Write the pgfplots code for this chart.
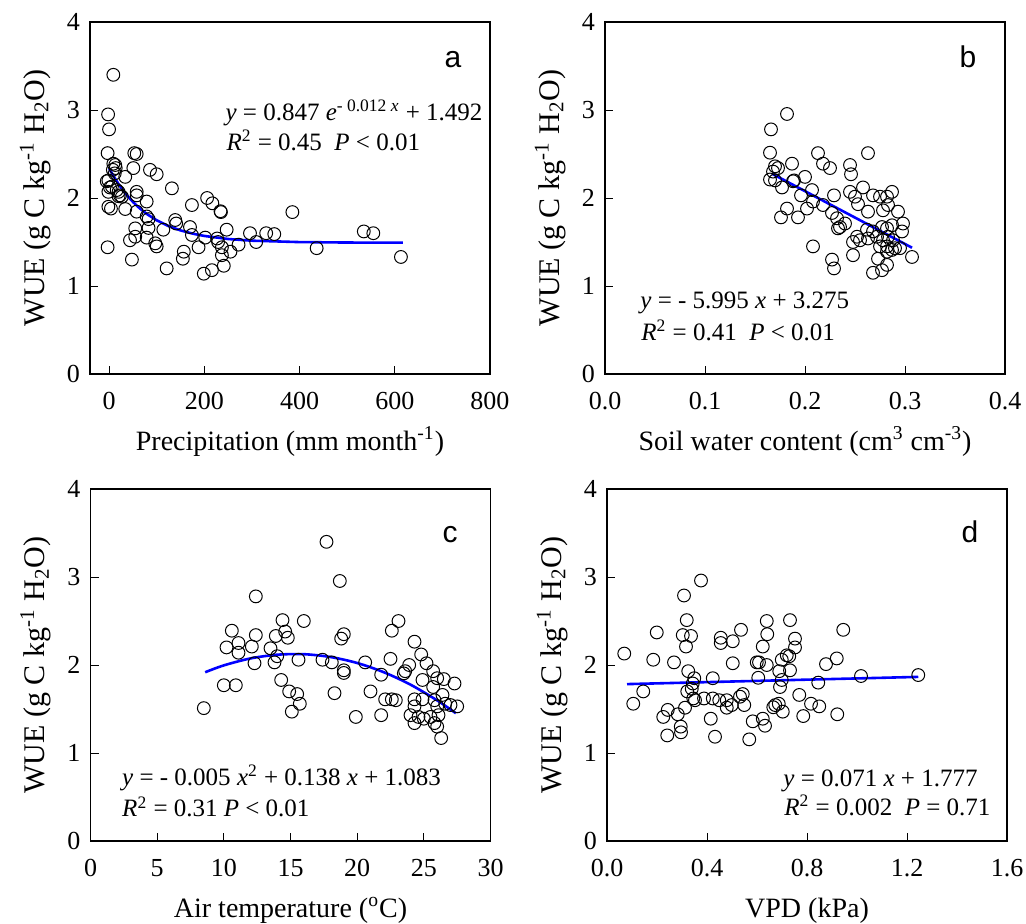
\documentclass[border=0pt]{standalone}
\usepackage{fontspec}
\setmainfont{Liberation Serif}
\newfontfamily\arialfont{Liberation Sans}
\usepackage{pgfplots}
\pgfplotsset{compat=1.18}

\pgfplotsset{
  wue/.style={
    scale only axis, width=200pt, height=176pt, anchor=south west,
    ymin=0, ymax=4, ytick={0,1,2,3,4},
    axis line style={line width=0.6pt},
    tick align=inside, xtick pos=left, ytick pos=left,
    major tick length=4pt, tick style={line width=0.5pt, black},
    /pgf/number format/assume math mode=true,
    tick label style={font=\fontsize{13}{15}\selectfont},
    xticklabel style={yshift=-5.5pt},
    yticklabel style={xshift=-1.5pt},
    label style={font=\fontsize{14}{16}\selectfont},
    xlabel style={at={(axis description cs:0.5,-0.216)}, anchor=base},
    ylabel style={at={(axis description cs:-0.137,0.5)}, anchor=center, font=\fontsize{15}{17}\selectfont},
    ylabel={WUE (g C kg\textsuperscript{-1} H\textsubscript{2}O)},
    clip=false,
  },
  pts/.style={only marks, mark=o, mark size=3.2pt, mark options={line width=0.5pt, black}},
  fit/.style={blue, line width=1.3pt, no marks},
}
\tikzset{
  eq/.style={anchor=base west, font=\fontsize{12.5}{14}\selectfont, inner sep=0pt},
  panel/.style={anchor=base, font=\arialfont\fontsize{15}{18}\selectfont, inner sep=0pt},
}

\begin{document}
\begin{tikzpicture}

% a: precipitation
\begin{axis}[wue, at={(45pt,274.5pt)},
  xmin=-40, xmax=800, xtick={0,200,400,600,800},
  xlabel={Precipitation (mm month\textsuperscript{-1})}]
\addplot[pts] coordinates {
(9,3.40) (-2,2.95) (0,2.78) (-3,2.51) (53,2.51) (58,2.50) (9,2.39) (13,2.375)
(14,2.34) (8,2.32) (-1.4,2.20) (-4.8,2.19) (34,2.24) (51,2.34) (86,2.32) (100,2.27)
(132,2.11) (-1.4,2.07) (16,2.09) (23,2.03) (20,2.02) (58,2.07) (58,2.03) (79,1.96)
(174,1.92) (206,2.00) (217,1.94) (234,1.85) (235,1.84) (-1.4,1.90) (4,1.88) (34,1.875)
(58,1.845) (79,1.79) (83,1.76) (139,1.75) (141,1.71) (55,1.655) (83,1.66) (114,1.64)
(170,1.67) (247,1.64) (296,1.60) (330,1.60) (347,1.59) (535,1.62) (555,1.60) (385,1.84)
(44,1.52) (55,1.56) (79,1.55) (97,1.485) (100,1.45) (174,1.58) (202,1.55) (227,1.54)
(229,1.50) (272,1.47) (309,1.50) (188,1.44) (157,1.39) (155,1.31) (237,1.44) (255,1.39)
(-3,1.44) (237,1.35) (48,1.30) (121,1.20) (199,1.14) (216,1.18) (241,1.23) (436,1.43)
(613,1.33) (6,2.13) (20,2.07) (27,2.015) (12,2.28) (2,2.12)
};
\addplot[fit] coordinates {
(0,2.339) (5,2.290) (10,2.243) (15,2.200) (20,2.158) (30,2.083) (40,2.016) (50,1.957)
(60,1.904) (70,1.858) (80,1.816) (100,1.747) (125,1.681) (150,1.632) (175,1.596)
(200,1.569) (250,1.534) (300,1.515) (400,1.499) (500,1.494) (617,1.4925)
};
\node[eq] at (axis cs:244,2.886) {\textit{y} = 0.847 \textit{e}\textsuperscript{- 0.012 \textit{x}} + 1.492};
\node[eq] at (axis cs:246,2.545) {\textit{R}\textsuperscript{2} = 0.45\ \ \textit{P} {\char`\<} 0.01};
\node[panel] at (rel axis cs:0.9075,0.872) {a};
\end{axis}

% b: soil water content
\begin{axis}[wue, at={(302.5pt,274.5pt)},
  xmin=0, xmax=0.4, xtick={0,0.1,0.2,0.3,0.4},
  xticklabel style={/pgf/number format/.cd, fixed, fixed zerofill, precision=1},
  xlabel={Soil water content (cm\textsuperscript{3} cm\textsuperscript{-3})}]
\addplot[pts] coordinates {
(0.182,2.955) (0.166,2.78) (0.165,2.515) (0.213,2.51) (0.263,2.51) (0.218,2.39)
(0.225,2.34) (0.187,2.39) (0.245,2.375) (0.246,2.27) (0.170,2.36) (0.173,2.34)
(0.168,2.30) (0.165,2.21) (0.200,2.24) (0.189,2.20) (0.177,2.12) (0.207,2.09)
(0.196,2.03) (0.229,2.03) (0.245,2.07) (0.250,2.015) (0.258,2.12) (0.268,2.03)
(0.275,2.015) (0.282,2.015) (0.287,2.07) (0.253,1.93) (0.218,1.92) (0.208,1.96)
(0.202,1.88) (0.182,1.88) (0.176,1.78) (0.193,1.78) (0.263,1.845) (0.278,1.86)
(0.283,1.92) (0.293,1.845) (0.227,1.83) (0.232,1.77) (0.240,1.71) (0.235,1.67)
(0.233,1.655) (0.298,1.71) (0.262,1.64) (0.268,1.62) (0.277,1.67) (0.282,1.655)
(0.287,1.69) (0.297,1.62) (0.252,1.56) (0.248,1.50) (0.255,1.52) (0.263,1.54)
(0.272,1.56) (0.278,1.52) (0.283,1.56) (0.288,1.52) (0.275,1.45) (0.282,1.45)
(0.290,1.43) (0.295,1.43) (0.307,1.33) (0.208,1.45) (0.248,1.35) (0.273,1.31)
(0.282,1.39) (0.287,1.41) (0.227,1.30) (0.229,1.20) (0.268,1.15) (0.277,1.18)
(0.282,1.24) (0.170,2.20) (0.188,2.19)
};
\addplot[fit] coordinates {(0.167,2.276) (0.307,1.435)};
\node[eq] at (axis cs:0.035,0.75) {\textit{y} = - 5.995 \textit{x} + 3.275};
\node[eq] at (axis cs:0.036,0.386) {\textit{R}\textsuperscript{2} = 0.41\ \ \textit{P} {\char`\<} 0.01};
\node[panel] at (rel axis cs:0.9075,0.872) {b};
\end{axis}

% c: air temperature
\begin{axis}[wue, at={(45.25pt,41pt)},
  xmin=0, xmax=30, xtick={0,5,10,15,20,25,30},
  xlabel={Air temperature (\textsuperscript{o}C)}]
\addplot[pts] coordinates {
(17.7,3.40) (18.7,2.955) (12.4,2.78) (14.4,2.51) (16.0,2.50) (23.1,2.50) (22.6,2.39)
(10.6,2.39) (12.4,2.34) (13.9,2.33) (14.6,2.38) (14.8,2.31) (19.0,2.35) (18.8,2.30)
(11.1,2.25) (10.2,2.20) (11.1,2.14) (12.1,2.21) (13.5,2.19) (24.3,2.265) (14.0,2.10)
(13.8,2.03) (12.3,2.02) (15.6,2.06) (17.4,2.06) (18.1,2.03) (20.6,2.03) (22.5,2.07)
(24.8,2.12) (25.2,2.02) (25.7,1.93) (23.9,2.00) (23.5,1.905) (23.6,1.93) (24.9,1.83)
(26.0,1.85) (26.5,1.84) (27.3,1.79) (19.0,1.94) (19.0,1.91) (14.3,1.83) (21.8,1.89)
(25.7,1.75) (26.4,1.66) (10.0,1.77) (10.9,1.77) (14.9,1.70) (15.5,1.67) (15.7,1.56)
(15.1,1.47) (18.3,1.68) (21.0,1.70) (22.1,1.61) (22.6,1.61) (22.9,1.60) (24.3,1.61)
(24.9,1.61) (25.8,1.60) (26.0,1.53) (26.6,1.56) (27.0,1.545) (27.5,1.53) (21.8,1.43)
(24.0,1.43) (24.6,1.41) (25.0,1.39) (25.5,1.41) (26.1,1.43) (24.3,1.34) (25.8,1.34)
(26.0,1.30) (26.3,1.17) (8.5,1.51) (19.9,1.41) (24.3,1.53)
};
\addplot[fit, smooth] coordinates {
(8.6,1.918) (10,1.996) (12,2.075) (14,2.117) (16,2.123) (18,2.091) (20,2.023)
(22,1.918) (24,1.777) (26,1.598) (27.4,1.452)
};
\node[eq] at (axis cs:2.35,0.636) {\textit{y} = - 0.005 \textit{x}\textsuperscript{2} + 0.138 \textit{x} + 1.083};
\node[eq] at (axis cs:2.35,0.276) {\textit{R}\textsuperscript{2} = 0.31 \textit{P} {\char`\<} 0.01};
\node[panel] at (rel axis cs:0.899,0.849) {c};
\end{axis}

% d: VPD
\begin{axis}[wue, at={(303.5pt,41pt)},
  xmin=0, xmax=1.6, xtick={0,0.4,0.8,1.2,1.6},
  xticklabel style={/pgf/number format/.cd, fixed, fixed zerofill, precision=1},
  xlabel={VPD (kPa)}]
\addplot[pts] coordinates {
(0.069,2.13) (0.105,1.56) (0.145,1.70) (0.199,2.37) (0.185,2.06) (0.268,2.03)
(0.225,1.41) (0.243,1.49) (0.241,1.20) (0.283,1.44) (0.295,1.30) (0.296,1.235)
(0.308,2.79) (0.376,2.96) (0.319,2.51) (0.303,2.34) (0.336,2.33) (0.316,2.21)
(0.325,1.93) (0.349,1.85) (0.343,1.79) (0.339,1.73) (0.321,1.70) (0.312,1.515)
(0.345,1.62) (0.352,1.60) (0.388,1.62) (0.423,1.85) (0.415,1.39) (0.432,1.185)
(0.423,1.62) (0.449,1.60) (0.455,2.31) (0.455,2.25) (0.479,1.60) (0.479,1.515)
(0.499,1.545) (0.503,2.27) (0.503,2.02) (0.536,2.40) (0.532,1.64) (0.543,1.67)
(0.549,1.545) (0.583,1.36) (0.569,1.155) (0.599,2.03) (0.608,2.03) (0.605,1.855)
(0.623,2.21) (0.639,2.50) (0.641,2.35) (0.639,2.00) (0.623,1.39) (0.632,1.31)
(0.665,1.52) (0.673,1.545) (0.687,1.56) (0.703,1.47) (0.692,1.75) (0.699,1.83)
(0.689,1.93) (0.699,2.06) (0.719,2.11) (0.729,2.10) (0.732,2.51) (0.732,1.94)
(0.752,2.30) (0.752,2.20) (0.769,1.66) (0.785,1.42) (0.816,1.56) (0.849,1.53)
(0.845,1.80) (0.876,2.01) (0.919,2.075) (0.921,1.44) (0.945,2.40) (1.016,1.875)
(1.245,1.886)
};
\addplot[fit] coordinates {(0.08,1.783) (1.245,1.865)};
\node[eq] at (axis cs:0.704,0.62) {\textit{y} = 0.071 \textit{x} + 1.777};
\node[eq] at (axis cs:0.708,0.295) {\textit{R}\textsuperscript{2} = 0.002\ \ \textit{P} = 0.71};
\node[panel] at (rel axis cs:0.9075,0.849) {d};
\end{axis}

\pgfresetboundingbox
\path[use as bounding box] (0,0) rectangle (513pt,461.5pt);
\end{tikzpicture}
\end{document}
